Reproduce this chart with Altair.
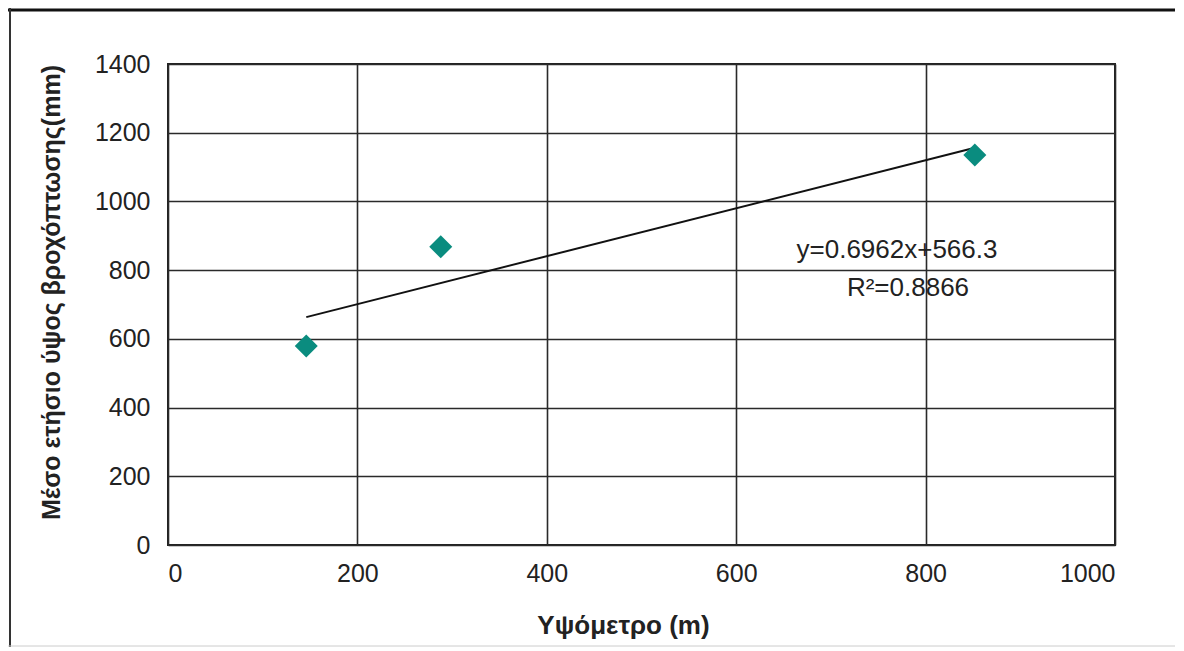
import altair as alt
import pandas as pd

# Data
altitude_m = [146, 288, 852]
rainfall_mm = [579, 868, 1135]
x_ticks = [0, 200, 400, 600, 800, 1000]
y_ticks = [0, 200, 400, 600, 800, 1000, 1200, 1400]
equation_text = "y=0.6962x+566.3"
r2_text = "R²=0.8866"

df = pd.DataFrame({"alt": altitude_m, "rain": rainfall_mm})

FONT = "Liberation Sans"
W, H = 947, 481

x_enc = alt.X(
    "alt:Q",
    scale=alt.Scale(domain=[0, 1000], nice=False, zero=True),
    axis=alt.Axis(
        values=x_ticks,
        format="d",
        title="Υψόμετρο (m)",
        grid=True,
        ticks=False,
        domain=False,
        labelPadding=16,
        labelFontSize=25,
        labelFont=FONT,
        labelColor="#222222",
        titleFont=FONT,
        titleFontSize=26,
        titleFontWeight="bold",
        titleColor="#222222",
        titleX=455,
        titleY=80,
        titleBaseline="middle",
        titleAnchor="middle",
        titleAlign="center",
    ),
)
y_enc = alt.Y(
    "rain:Q",
    scale=alt.Scale(domain=[0, 1400], nice=False),
    axis=alt.Axis(
        values=y_ticks,
        format="d",
        title="Μέσο ετήσιο ύψος βροχόπτωσης(mm)",
        grid=True,
        ticks=False,
        domain=False,
        labelPadding=18,
        labelFontSize=25,
        labelFont=FONT,
        labelColor="#222222",
        titleFont=FONT,
        titleFontSize=25,
        titleFontWeight="bold",
        titleColor="#222222",
        titleAngle=-90,
        titleX=-117,
        titleY=228,
        titleBaseline="middle",
        titleAlign="center",
    ),
)

base = alt.Chart(df)

points = base.mark_point(
    shape="diamond", filled=True, size=530, color="#0a8c7f", opacity=1
).encode(x=x_enc, y=y_enc)

trend = (
    base.transform_regression("alt", "rain", method="linear")
    .mark_line(color="#111111", strokeWidth=2)
    .encode(x=x_enc, y=y_enc)
)

eq = alt.Chart(pd.DataFrame({"t": [equation_text]})).mark_text(
    font=FONT, fontSize=26, color="#222222", align="center", baseline="middle"
).encode(text="t:N", x=alt.value(729), y=alt.value(186))

r2 = alt.Chart(pd.DataFrame({"t": [r2_text]})).mark_text(
    font=FONT, fontSize=26, color="#222222", align="center", baseline="middle"
).encode(text="t:N", x=alt.value(740), y=alt.value(224))

# outer frame of the figure
frame_top = alt.Chart(pd.DataFrame({"a": [0]})).mark_rule(
    color="#111111", strokeWidth=3
).encode(x=alt.value(-160), x2=alt.value(1007), y=alt.value(-54))
frame_left = alt.Chart(pd.DataFrame({"a": [0]})).mark_rule(
    color="#333333", strokeWidth=2
).encode(x=alt.value(-158), y=alt.value(-56), y2=alt.value(583))
frame_bottom = alt.Chart(pd.DataFrame({"a": [0]})).mark_rule(
    color="#cccccc", strokeWidth=1
).encode(x=alt.value(-160), x2=alt.value(1007), y=alt.value(582))

chart = (
    alt.layer(trend, points, eq, r2, frame_top, frame_left, frame_bottom)
    .properties(
        width=W,
        height=H,
        autosize=alt.AutoSizeParams(type="none"),
        padding={"left": 160, "top": 56, "right": 60, "bottom": 102},
        background="white",
    )
    .configure_view(stroke="#222222", strokeWidth=2)
    .configure_axis(gridColor="#2a2a2a", gridWidth=1.6, gridOpacity=1)
)

chart.save("out.html", embed_options={"renderer": "svg", "actions": False})
